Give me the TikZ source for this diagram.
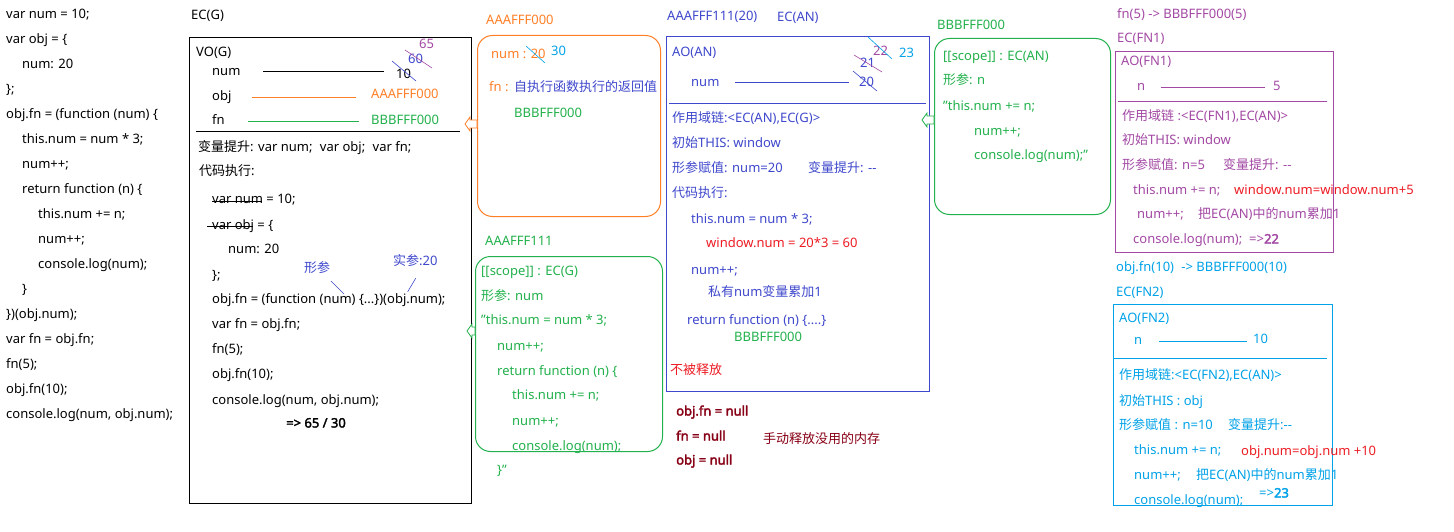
\documentclass[tikz,border=0pt]{standalone}
\usepackage{fontspec}
\setmainfont{Noto Sans}[AutoFakeBold=2.5]
\newfontfamily\zhfont{Noto Sans CJK SC}[AutoFakeBold=2.5]
\newcommand\zh[1]{{\zhfont #1}}
\definecolor{cOr}{HTML}{FF7F27}
\definecolor{cGr}{HTML}{22B14C}
\definecolor{cIn}{HTML}{3F48CC}
\definecolor{cPu}{HTML}{A349A4}
\definecolor{cCy}{HTML}{00A2E8}
\definecolor{cRd}{HTML}{ED1C24}
\definecolor{cDr}{HTML}{880015}
\begin{document}
\begin{tikzpicture}[x=1pt,y=-1pt,
 every node/.style={font=\fontsize{13}{15}\selectfont},
 t/.style={anchor=west, inner sep=0pt, text height=9.5pt, text depth=2.5pt},
 box/.style={draw, line width=1pt, anchor=north west, inner sep=0pt},
 rbox/.style={box, rounded corners=15pt},
 ln/.style={line width=0.8pt},
 harrow/.style={line width=0.8pt, fill=white}]
\useasboundingbox[fill=white] (0,0) rectangle (1454,532);

% ---------------- left code ----------------
\node[t] (L1) at (6,15) {var num = 10;};
\node[t] (L2) at (6,40) {var obj = \{};
\node[t] (L3) at (22,65) {num: 20};
\node[t] (L4) at (6,90) {\};};
\node[t] (L5) at (6,115) {obj.fn = (function (num) \{};
\node[t] (L6) at (22,140) {this.num = num * 3;};
\node[t] (L7) at (22,165) {num++;};
\node[t] (L8) at (22,190) {return function (n) \{};
\node[t] (L9) at (38,215) {this.num += n;};
\node[t] (L10) at (38,240) {num++;};
\node[t] (L11) at (38,265) {console.log(num);};
\node[t] (L12) at (22,290) {\}};
\node[t] (L13) at (6,315) {\})(obj.num);};
\node[t] (L14) at (6,340) {var fn = obj.fn;};
\node[t] (L15) at (6,365) {fn(5);};
\node[t] (L16) at (6,390) {obj.fn(10);};
\node[t] (L17) at (6,415) {console.log(num, obj.num);};

% ---------------- EC(G) ----------------
\node[t] (ecgL) at (191,16) {EC(G)};
\node[box, minimum width=282pt, minimum height=466pt] (ecg) at (189,37) {};
\node[t] (vog) at (196,53) {VO(G)};
\node[t] (g1) at (212,72) {num};
\draw[ln] (263,71) -- (384,71);
\node[t] (g10) at (396,75) {10};
\node[t, text=cIn] (g60) at (408,60) {60};
\node[t, text=cPu] (g65) at (419,45) {65};
\draw[cIn, line width=0.6pt] (392,61) -- (416,81);
\draw[cPu, line width=0.6pt] (405,50) -- (432,68);
\node[t] (g2) at (212,97) {obj};
\draw[ln, cOr] (252,97) -- (356,97);
\node[t, text=cOr] (g2v) at (371,95) {AAAFFF000};
\node[t] (g3) at (212,121) {fn};
\draw[ln, cGr] (248,121) -- (359,121);
\node[t, text=cGr] (g3v) at (371,121) {BBBFFF000};
\draw[ln] (196,131) -- (460,131);
\node[t] (g4) at (198,148) {\zh{变量提升}: var num;\hspace{4pt} var obj;\hspace{4pt} var fn;};
\node[t] (g5) at (199,172) {\zh{代码执行}:};
\node[t] (g6) at (212,200) {var num = 10;};
\draw[ln] (212,201) -- (262,201);
\node[t] (g7) at (212,226) {var obj = \{};
\draw[ln] (207,226) -- (253,226);
\node[t] (g8) at (228,250) {num: 20};
\node[t] (g9) at (212,276) {\};};
\node[t] (g11) at (212,300) {obj.fn = (function (num) \{...\})(obj.num);};
\node[t, text=cIn] (gxc) at (304,269) {\zh{形参}};
\draw[cIn, line width=0.6pt] (331,281) -- (344,294);
\node[t, text=cIn] (gsc) at (393,262) {\zh{实参}:20};
\draw[cIn, line width=0.6pt] (415.7,278.3) -- (407.7,291.7);
\node[t] (g12) at (212,325) {var fn = obj.fn;};
\node[t] (g13) at (212,350) {fn(5);};
\node[t] (g14) at (212,375) {obj.fn(10);};
\node[t] (g15) at (212,401) {console.log(num, obj.num);};
\node[t, font=\fontsize{13}{15}\selectfont\bfseries] (g16) at (286,424) {=> 65 / 30};

% ---------------- AAAFFF000 ----------------
\node[t, text=cOr] (aL) at (486,21) {AAAFFF000};
\node[rbox, draw=cOr, minimum width=183pt, minimum height=181pt] (aaa) at (477,35) {};
\node[t, text=cOr] (a1) at (491,55) {num : 20};
\draw[cCy, line width=0.6pt] (526,46) -- (545,63);
\node[t, text=cCy] (a30) at (551,52) {30};
\node[t, text=cOr] (a2) at (489,88) {fn : };
\node[t, text=cIn] (a2v) at (514,88) {\zh{自执行函数执行的返回值}};
\node[t, text=cGr] (a3) at (514,114) {BBBFFF000};
\coordinate (arrA) at (465,124);
\draw[cOr, harrow] (arrA) -- ++(5,-7) -- ++(0,3) -- ++(7,0) -- ++(0,8) -- ++(-7,0) -- ++(0,3) -- cycle;

% ---------------- AAAFFF111 ----------------
\node[t, text=cGr] (bL) at (485,242) {AAAFFF111};
\node[rbox, draw=cGr, minimum width=187pt, minimum height=195pt] (bbb) at (475,256) {};
\begin{scope}[every node/.append style={text=cGr}]
\node[t] (b1) at (481,272) {[[scope]] : EC(G)};
\node[t] (b2) at (481,297) {\zh{形参}: num};
\node[t] (b3) at (481,321) {"this.num = num * 3;};
\node[t] (b4) at (497,347) {num++;};
\node[t] (b5) at (497,372) {return function (n) \{};
\node[t] (b6) at (512,396) {this.num += n;};
\node[t] (b7) at (512,422) {num++;};
\node[t] (b8) at (512,447) {console.log(num);};
\node[t] (b9) at (497,471) {\}"};
\end{scope}
\coordinate (arrB) at (467,331);
\draw[cGr, harrow] (arrB) -- ++(5,-7) -- ++(0,3) -- ++(3,0) -- ++(0,8) -- ++(-3,0) -- ++(0,3) -- cycle;

% ---------------- EC(AN) ----------------
\node[t, text=cIn] (nL1) at (667,17) {AAAFFF111(20)};
\node[t, text=cIn] (nL2) at (777,18) {EC(AN)};
\node[box, draw=cIn, minimum width=263pt, minimum height=355pt] (ean) at (666,36) {};
\begin{scope}[every node/.append style={text=cIn}]
\node[t] (n1) at (672,53) {AO(AN)};
\node[t] (n2) at (691,83) {num};
\node[t] (n20) at (859,83) {20};
\node[t] (n21) at (860,64) {21};
\node[t] (n4) at (672,119) {\zh{作用域链}:<EC(AN),EC(G)>};
\node[t] (n5) at (672,144) {\zh{初始}THIS: window};
\node[t] (n6) at (672,169) {\zh{形参赋值}: num=20};
\node[t] (n6b) at (808,169) {\zh{变量提升}: {-}{-}};
\node[t] (n7) at (672,194) {\zh{代码执行}:};
\node[t] (n8) at (691,220) {this.num = num * 3;};
\node[t] (n10) at (691,271) {num++;};
\node[t] (n11) at (708,293) {\zh{私有}num\zh{变量累加}1};
\node[t] (n12) at (687,321) {return function (n) \{....\}};
\end{scope}
\draw[ln, cIn] (735,82) -- (849,82);
\node[t, text=cPu] (n22) at (873,52) {22};
\node[t, text=cCy] (n23) at (899,54) {23};
\draw[cIn, line width=0.6pt] (853,71) -- (877,91);
\draw[cPu, line width=0.6pt] (854,55) -- (882,72);
\draw[cCy, line width=0.6pt] (868,37) -- (892,59);
\draw[ln, cIn] (669,103) -- (926,103);
\node[t, text=cRd] (n9) at (706,244) {window.num = 20*3 = 60};
\node[t, text=cGr] (n13) at (734,338) {BBBFFF000};
\node[t, text=cRd] (n14) at (670,371) {\zh{不被释放}};
\begin{scope}[every node/.append style={text=cDr, font=\fontsize{13}{15}\selectfont\bfseries}]
\node[t] (m1) at (676,412) {obj.fn = null};
\node[t] (m2) at (676,437) {fn = null};
\node[t] (m3) at (676,461) {obj = null};
\end{scope}
\node[t, text=cDr] (m4) at (763,440) {\zh{手动释放没用的内存}};

% ---------------- BBBFFF000 ----------------
\node[t, text=cGr] (cL) at (937,26) {BBBFFF000};
\node[rbox, draw=cGr, minimum width=176pt, minimum height=176pt] (ccc) at (934,38) {};
\begin{scope}[every node/.append style={text=cGr}]
\node[t] (c1) at (943,57) {[[scope]] : EC(AN)};
\node[t] (c2) at (943,81) {\zh{形参}: n};
\node[t] (c3) at (943,107) {"this.num += n;};
\node[t] (c4) at (974,132) {num++;};
\node[t] (c5) at (974,156) {console.log(num);"};
\end{scope}
\coordinate (arrC) at (922,120);
\draw[cGr, harrow] (arrC) -- ++(5,-7) -- ++(0,3) -- ++(7,0) -- ++(0,8) -- ++(-7,0) -- ++(0,3) -- cycle;

% ---------------- FN1 ----------------
\begin{scope}[every node/.append style={text=cPu}]
\node[t] (p0) at (1117,15) {fn(5) -> BBBFFF000(5)};
\node[t] (pL) at (1117,39) {EC(FN1)};
\node[t] (p1) at (1121,62) {AO(FN1)};
\node[t] (p2) at (1137,87) {n};
\node[t] (p5) at (1273,87) {5};
\node[t] (p3) at (1122,117) {\zh{作用域链} :<EC(FN1),EC(AN)>};
\node[t] (p4) at (1122,141) {\zh{初始}THIS: window};
\node[t] (p6) at (1122,166) {\zh{形参赋值}: n=5};
\node[t] (p6b) at (1223,166) {\zh{变量提升}: {-}{-}};
\node[t] (p7) at (1133,191) {this.num += n;};
\node[t] (p8) at (1137,215) {num++;};
\node[t] (p8b) at (1198,215) {\zh{把}EC(AN)\zh{中的}num\zh{累加}1};
\node[t] (p9) at (1133,240) {console.log(num);};
\node[t] (p9b) at (1249,240) {=>\textbf{22}};
\end{scope}
\node[box, draw=cPu, minimum width=218pt, minimum height=201pt] (fn1) at (1115,51) {};
\draw[ln, cPu] (1161,87) -- (1265,87);
\draw[ln, cPu] (1118,101) -- (1327,101);
\node[t, text=cRd] (p7b) at (1234,191) {window.num=window.num+5};

% ---------------- FN2 ----------------
\begin{scope}[every node/.append style={text=cCy}]
\node[t] (q0) at (1116,268) {obj.fn(10)\hspace{4pt} -> BBBFFF000(10)};
\node[t] (qL) at (1116,293) {EC(FN2)};
\node[t] (q1) at (1119,319) {AO(FN2)};
\node[t] (q2) at (1134,341) {n};
\node[t] (q10) at (1253,340) {10};
\node[t] (q3) at (1119,376) {\zh{作用域链}:<EC(FN2),EC(AN)>};
\node[t] (q4) at (1119,402) {\zh{初始}THIS : obj};
\node[t] (q6) at (1119,426) {\zh{形参赋值} : n=10};
\node[t] (q6b) at (1228,426) {\zh{变量提升}:{-}{-}};
\node[t] (q7) at (1134,451) {this.num += n;};
\node[t] (q8) at (1134,476) {num++;};
\node[t] (q8b) at (1196,476) {\zh{把}EC(AN)\zh{中的}num\zh{累加}1};
\node[t] (q9) at (1134,501) {console.log(num);};
\node[t] (q9b) at (1259,494) {=>\textbf{23}};
\end{scope}
\node[box, draw=cCy, minimum width=219pt, minimum height=201pt] (fn2) at (1113,304) {};
\draw[ln, cCy] (1159,341) -- (1247,341);
\draw[ln, cCy] (1114,358) -- (1327,358);
\node[t, text=cRd] (q7b) at (1241,452) {obj.num=obj.num +10};
\end{tikzpicture}
\end{document}
